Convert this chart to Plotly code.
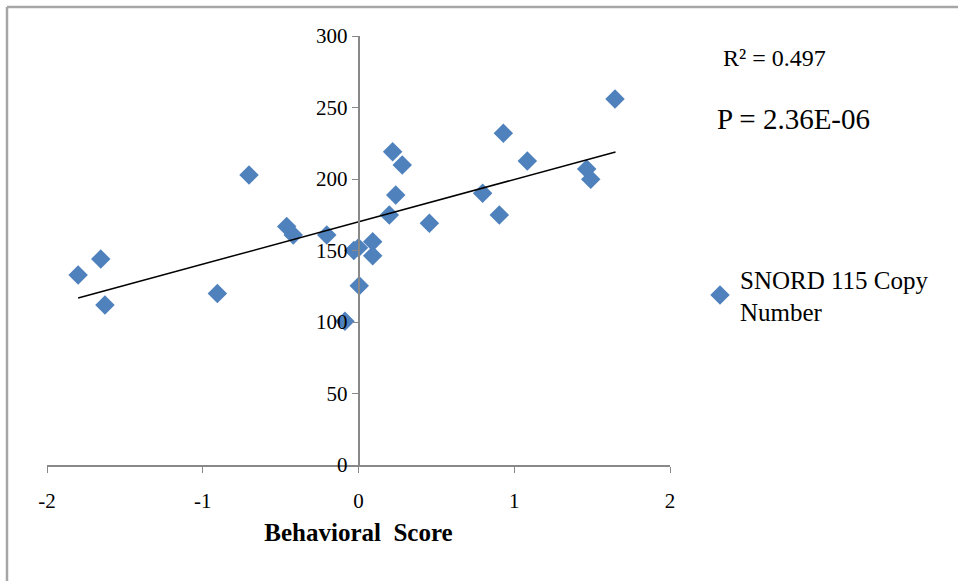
import plotly.graph_objects as go

behavioral_score = [-1.80, -1.655, -1.628, -0.906, -0.703, -0.461, -0.419, -0.204, -0.087,
                    -0.03, 0.0, 0.005, 0.091, 0.091, 0.198, 0.219, 0.239, 0.281, 0.455,
                    0.797, 0.904, 0.93, 1.084, 1.465, 1.491, 1.647]
copy_number = [132.9, 144.0, 111.9, 120.0, 202.8, 166.8, 160.8, 160.8, 100.5,
               150.0, 152.0, 125.4, 156.2, 146.4, 174.8, 219.0, 188.8, 209.8, 169.0,
               190.0, 174.8, 232.0, 212.6, 207.0, 199.8, 256.0]

trend_x = [-1.80, 1.65]
trend_y = [116.8, 218.9]

x_ticks = [-2, -1, 0, 1, 2]
x_tick_labels = ["-2", "-1", "0", "1", "2"]
y_ticks = [0, 50, 100, 150, 200, 250, 300]

r2_text = "R² = 0.497"
p_text = "P = 2.36E-06"
series_name = "SNORD 115 Copy<br>Number"

W, H = 958, 581
ML, MR, MT, MB = 47, 288, 36, 116
pw, ph = W - ML - MR, H - MT - MB

def px(xpix):
    return (xpix - ML) / pw

def py(ypix):
    return (H - MB - ypix) / ph

FONT = "Liberation Serif"

fig = go.Figure()
fig.add_trace(go.Scatter(
    x=behavioral_score, y=copy_number, mode="markers", name=series_name,
    marker=dict(symbol="diamond", size=15, color="#4F81BD", line=dict(width=0)),
))
fig.add_trace(go.Scatter(
    x=trend_x, y=trend_y, mode="lines", showlegend=False,
    line=dict(color="black", width=1.5), hoverinfo="skip",
))

fig.update_layout(
    width=W, height=H,
    margin=dict(l=ML, r=MR, t=MT, b=MB),
    paper_bgcolor="white", plot_bgcolor="white",
    font=dict(family=FONT, size=21, color="black"),
    xaxis=dict(
        range=[-2, 2], tickvals=x_ticks, ticktext=x_tick_labels,
        ticks="outside", ticklen=6, tickcolor="#888888",
        showline=True, linecolor="#888888", linewidth=1.5, showgrid=False, zeroline=False,
        tickfont=dict(family=FONT, size=21), ticklabelstandoff=10,
        title=dict(text="<b>Behavioral  Score</b>", font=dict(family=FONT, size=25), standoff=12),
    ),
    yaxis=dict(
        range=[0, 300], tickvals=y_ticks, ticks="outside", ticklen=6, tickcolor="#888888",
        showline=True, linecolor="#888888", linewidth=1.5, showgrid=False, zeroline=False,
        anchor="free", position=0.5, tickfont=dict(family=FONT, size=21),
    ),
    legend=dict(
        x=px(700), y=py(256), xanchor="left", yanchor="top",
        font=dict(family=FONT, size=25), bgcolor="rgba(0,0,0,0)",
        itemwidth=30, tracegroupgap=0,
    ),
    showlegend=True,
    annotations=[
        dict(text=r2_text, x=px(721), y=py(58), xref="paper", yref="paper",
             xanchor="left", yanchor="middle", showarrow=False,
             font=dict(family=FONT, size=24)),
        dict(text=p_text, x=px(715), y=py(119), xref="paper", yref="paper",
             xanchor="left", yanchor="middle", showarrow=False,
             font=dict(family=FONT, size=29)),
    ],
    shapes=[
        dict(type="line", xref="paper", yref="paper", x0=px(7), x1=px(958), y0=py(7), y1=py(7),
             line=dict(color="#A6A6A6", width=2.5)),
        dict(type="line", xref="paper", yref="paper", x0=px(7), x1=px(7), y0=py(7), y1=py(581),
             line=dict(color="#A6A6A6", width=2.5)),
    ],
)

fig.write_html("out.html")
